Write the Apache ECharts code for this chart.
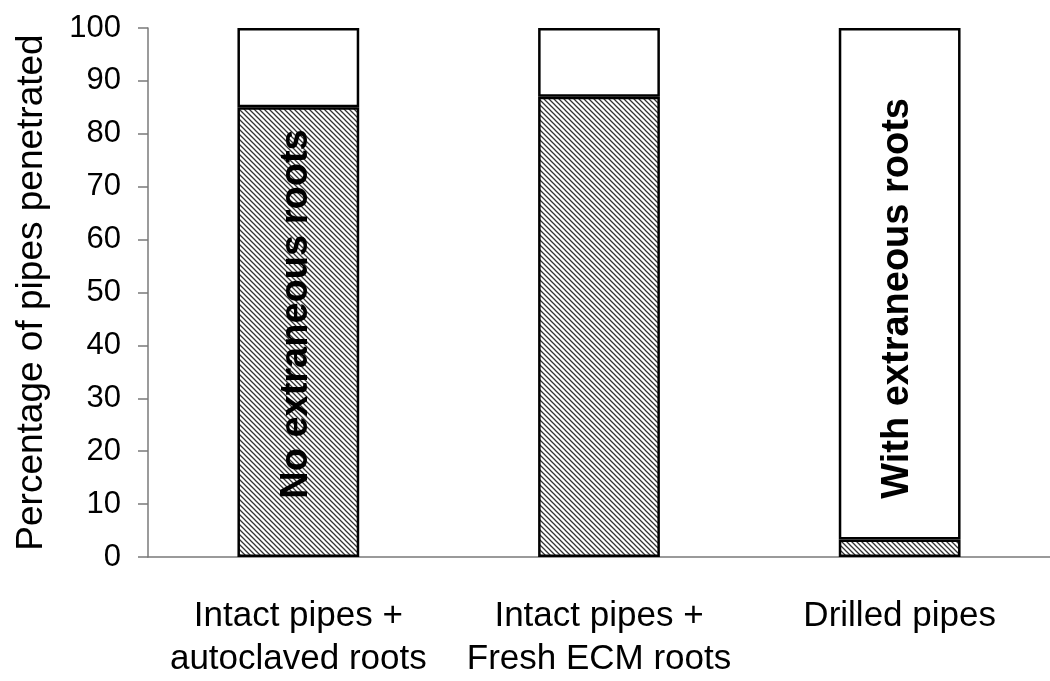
<!DOCTYPE html>
<html>
<head>
<meta charset="utf-8">
<script src="https://cdn.jsdelivr.net/npm/echarts@6/dist/echarts.min.js"></script>
<style>
  html, body { margin: 0; padding: 0; background: #fff; }
  #chart { width: 1050px; height: 681px; }
</style>
</head>
<body>
<div id="chart"></div>
<script>
// data
const categories = ['Intact pipes +\nautoclaved roots', 'Intact pipes +\nFresh ECM roots', 'Drilled pipes'];
const penetrated = [85, 87, 3.3];
const remainder = [15, 13, 96.7];
const yTicks = [0, 10, 20, 30, 40, 50, 60, 70, 80, 90, 100];
const notes = ['No extraneous roots', '', 'With extraneous roots'];
const noteStart = 11; // value on the y axis where each note begins

const FONT = 'Liberation Sans, Arial, sans-serif';

// diagonal hatch fill
function makeHatch() {
    let n = 5;
    let c = document.createElement('canvas');
    c.width = n;
    c.height = n;
    let ctx = c.getContext('2d');
    ctx.fillStyle = '#fff';
    ctx.fillRect(0, 0, n, n);
    ctx.strokeStyle = '#333';
    ctx.lineWidth = 1.25;
    ctx.beginPath();
    ctx.moveTo(-1, -1); ctx.lineTo(n + 1, n + 1);
    ctx.moveTo(-1, n - 1); ctx.lineTo(1, n + 1);
    ctx.moveTo(n - 1, -1); ctx.lineTo(n + 1, 1);
    ctx.stroke();
    return c;
}

let chart = echarts.init(document.getElementById('chart'));

let option = {
    animation: false,
    backgroundColor: '#fff',
    grid: { left: 148, top: 28, width: 910, height: 531 },
    xAxis: {
        type: 'category',
        data: categories,
        axisLine: { lineStyle: { color: '#7a7a7a', width: 1.5 } },
        axisTick: { length: 12, lineStyle: { color: '#7a7a7a', width: 1.5 } },
        axisLabel: { color: '#000', fontFamily: FONT, fontSize: 35, lineHeight: 43, margin: 38, interval: 0, hideOverlap: false }
    },
    yAxis: {
        type: 'value',
        min: yTicks[0],
        max: yTicks[yTicks.length - 1],
        interval: 10,
        name: 'Percentage of pipes penetrated',
        nameLocation: 'middle',
        nameGap: 98,
        nameTextStyle: { color: '#000', fontFamily: FONT, fontSize: 37 },
        axisLine: { show: true, lineStyle: { color: '#7a7a7a', width: 1.5 } },
        axisTick: { show: true, length: 10, lineStyle: { color: '#7a7a7a', width: 1.5 } },
        axisLabel: { color: '#000', fontFamily: FONT, fontSize: 31, margin: 27 },
        splitLine: { show: false }
    },
    series: [
        {
            name: 'penetrated',
            type: 'bar',
            stack: 'all',
            barWidth: '40.5%',
            data: penetrated,
            itemStyle: {
                color: { image: makeHatch(), repeat: 'repeat' },
                borderColor: '#000',
                borderWidth: 2.5
            }
        },
        {
            name: 'remainder',
            type: 'bar',
            stack: 'all',
            data: remainder,
            itemStyle: { color: '#fff', borderColor: '#000', borderWidth: 2.5 }
        }
    ]
};

chart.setOption(option);

// rotated notes inside the bars
let graphics = [];
notes.forEach((t, i) => {
    if (!t) return;
    let p = chart.convertToPixel({ xAxisIndex: 0, yAxisIndex: 0 }, [i, noteStart]);
    graphics.push({
        type: 'text',
        x: p[0] - 2,
        y: p[1],
        rotation: Math.PI / 2,
        z: 100,
        style: {
            text: t,
            fill: '#000',
            font: 'bold 38px ' + FONT,
            textAlign: 'left',
            textVerticalAlign: 'middle'
        }
    });
});
chart.setOption({ graphic: graphics });
</script>
</body>
</html>
